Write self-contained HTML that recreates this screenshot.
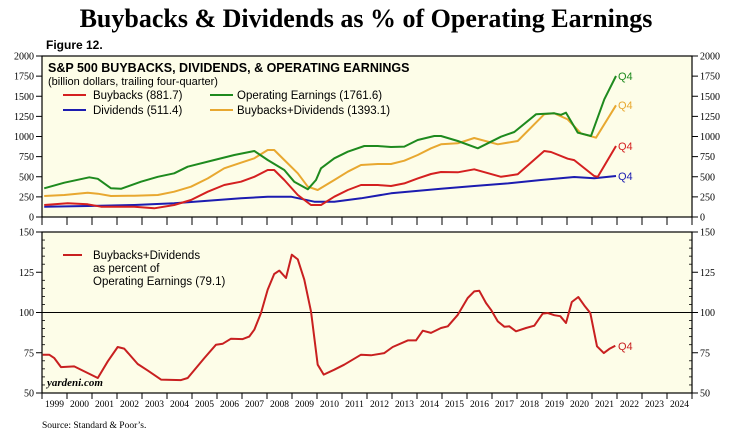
<!DOCTYPE html>
<html><head><meta charset="utf-8"><style>
html,body{margin:0;padding:0;background:#fff;}
svg{display:block;}
</style></head><body>
<svg id="chart" width="732" height="431" viewBox="0 0 732 431" xmlns="http://www.w3.org/2000/svg">
<text x="366" y="27" text-anchor="middle" font-family="Liberation Serif, serif" font-weight="bold" font-size="26">Buybacks &amp; Dividends as % of Operating Earnings</text>
<text x="46" y="49" font-family="Liberation Sans, sans-serif" font-weight="bold" font-size="12">Figure 12.</text>
<rect x="42" y="56" width="650" height="161" fill="#fdfde8" stroke="#000" stroke-width="1.2"/>
<rect x="42" y="232" width="650" height="161" fill="#fdfde8" stroke="#000" stroke-width="1.2"/>
<g id="axes"></g>
<g id="series"></g>
<text x="48" y="72" font-family="Liberation Sans, sans-serif" font-weight="bold" font-size="12.5">S&amp;P 500 BUYBACKS, DIVIDENDS, &amp; OPERATING EARNINGS</text>
<text x="48" y="85" font-family="Liberation Sans, sans-serif" font-size="11">(billion dollars, trailing four-quarter)</text>
<g font-family="Liberation Sans, sans-serif" font-size="11.5">
<line x1="63" y1="95" x2="86" y2="95" stroke="#d42020" stroke-width="2"/>
<text x="93" y="99">Buybacks (881.7)</text>
<line x1="63" y1="110" x2="86" y2="110" stroke="#1c1cb0" stroke-width="2"/>
<text x="93" y="114">Dividends (511.4)</text>
<line x1="210" y1="95" x2="233" y2="95" stroke="#1e8a1e" stroke-width="2"/>
<text x="237" y="99">Operating Earnings (1761.6)</text>
<line x1="210" y1="110" x2="233" y2="110" stroke="#e8a830" stroke-width="2"/>
<text x="237" y="114">Buybacks+Dividends (1393.1)</text>
<line x1="63" y1="255" x2="82" y2="255" stroke="#c82020" stroke-width="2"/>
<text x="93" y="259">Buybacks+Dividends</text>
<text x="93" y="272">as percent of</text>
<text x="93" y="285">Operating Earnings (79.1)</text>
</g>
<g font-family="Liberation Sans, sans-serif" font-size="11">
<text x="618" y="80" fill="#1e8a1e">Q4</text>
<text x="618" y="109" fill="#e8a830">Q4</text>
<text x="618" y="150" fill="#d42020">Q4</text>
<text x="618" y="180" fill="#1c1cb0">Q4</text>
<text x="618" y="350" fill="#c82020">Q4</text>
</g>
<text x="47" y="386" font-family="Liberation Serif, serif" font-style="italic" font-weight="bold" font-size="11">yardeni.com</text>
<text x="42" y="428" font-family="Liberation Serif, serif" font-size="9.5">Source: Standard &amp; Poor’s.</text>
</svg>
<script>
const years = [1999,2000,2001,2002,2003,2004,2005,2006,2007,2008,2009,2010,2011,2012,2013,2014,2015,2016,2017,2018,2019,2020,2021,2022,2023,2024];
const topTicks = [0,250,500,750,1000,1250,1500,1750,2000];
const botTicks = [50,75,100,125,150];

const earnDates = [1999.09,1999.89,2000.89,2001.23,2001.76,2002.16,2002.96,2003.63,2004.29,2004.83,2005.89,2006.69,2007.49,2008.03,2008.69,2009.09,2009.63,2009.96,2010.16,2010.69,2011.23,2011.89,2012.43,2012.96,2013.49,2014.03,2014.69,2014.96,2015.63,2016.43,2017.36,2017.89,2018.76,2019.49,2019.76,2019.96,2020.43,2020.96,2021.49,2021.96];
const earnVals = [356,426,493,475,356,350,438,500,543,625,708,770,820,708,584,438,344,460,605,729,811,882,882,870,875,956,1006,1006,944,853,997,1056,1276,1288,1270,1296,1047,1006,1462,1751];

const bdDates = [1999.09,1999.89,2000.83,2001.23,2001.76,2002.69,2003.63,2004.29,2004.96,2005.63,2006.29,2006.96,2007.49,2008.03,2008.29,2008.69,2009.23,2009.63,2010.03,2010.69,2011.23,2011.76,2012.43,2012.96,2013.49,2014.03,2014.56,2014.96,2015.63,2016.29,2017.23,2018.03,2019.09,2019.49,2020.03,2020.56,2021.16,2021.96];
const bdVals = [261,273,302,290,261,265,273,314,376,480,605,674,729,832,832,708,543,376,335,460,563,646,658,658,699,770,853,903,915,981,903,944,1276,1288,1213,1039,985,1387];

const buyDates = [1999.09,2000.03,2000.83,2001.36,2002.69,2003.49,2004.29,2004.96,2005.63,2006.29,2006.96,2007.49,2008.03,2008.29,2008.69,2009.23,2009.76,2010.16,2010.69,2011.23,2011.76,2012.43,2012.96,2013.49,2014.03,2014.56,2014.96,2015.63,2016.29,2017.36,2018.03,2019.09,2019.36,2020.03,2020.29,2021.09,2021.23,2021.96];
const buyVals = [149,170,158,128,128,108,149,211,314,397,438,500,584,584,460,273,149,149,252,335,397,397,385,418,480,534,559,555,592,500,530,820,808,724,707,509,500,882];

const divDates = [1999.09,2000.83,2002.69,2004.29,2005.63,2006.96,2008.03,2008.96,2009.89,2010.69,2011.76,2012.96,2014.96,2016.29,2017.63,2018.96,2020.29,2021.09,2021.96];
const divVals = [128,137,149,170,202,232,252,252,190,190,232,294,352,385,418,460,497,481,509];

const pctDates = [1999.03,1999.29,1999.49,1999.76,2000.29,2000.63,2001.23,2001.63,2002.03,2002.29,2002.83,2003.23,2003.76,2004.56,2004.83,2005.49,2005.96,2006.23,2006.56,2007.03,2007.29,2007.49,2007.76,2008.03,2008.29,2008.49,2008.76,2008.99,2009.23,2009.49,2009.76,2010.03,2010.27,2010.69,2011.09,2011.76,2012.16,2012.69,2013.03,2013.63,2013.96,2014.23,2014.56,2014.96,2015.23,2015.63,2016.03,2016.29,2016.49,2016.76,2016.96,2017.23,2017.49,2017.69,2017.96,2018.36,2018.69,2019.03,2019.23,2019.49,2019.73,2019.96,2020.19,2020.45,2020.72,2020.93,2021.2,2021.47,2021.69,2021.93];
const pctVals = [73.8,73.8,71.7,66.1,66.5,63.9,59.3,69.7,78.6,77.6,68,63.9,58.3,58,59.3,71.7,80,80.6,83.7,83.5,85,89.3,99.7,114.2,123.9,126,121.4,135.9,133,120.4,100.7,67.6,61.4,64.5,67.6,73.8,73.4,74.8,78.6,82.7,82.7,88.7,87.3,90.4,91.4,98.6,109,113.1,113.5,105.9,101.7,94.5,91.2,91.4,88.3,90.4,91.8,99.3,99.7,98.3,97.7,93.5,106.5,109.6,103.8,99.7,79,74.8,77.4,79.4];

const NS = 'http://www.w3.org/2000/svg';
const L = 42, PXY = 25;
function xScale(t){ return L + (t - 1999) * PXY; }
function yTop(v){ return 217 - v * 161 / 2000; }
function yBot(v){ return 393 - (v - 50) * 161 / 100; }
function mk(tag, attrs, parent){ const e = document.createElementNS(NS, tag); for (const k in attrs) e.setAttribute(k, attrs[k]); parent.appendChild(e); return e; }

const axes = document.getElementById('axes');
const serif = 'Liberation Serif, serif';
topTicks.forEach(v => {
  const y = yTop(v);
  const t1 = mk('line', {x1: 36, x2: 42, y1: y, y2: y, stroke: '#000'}, axes);
  
  
  const t2 = mk('line', {x1: 692, x2: 698, y1: y, y2: y, stroke: '#000'}, axes);
  
  
  const a = mk('text', {x: 34, y: y + 3.5, 'text-anchor': 'end', 'font-family': serif, 'font-size': 10}, axes);
  a.textContent = v;
  
  
  const b = mk('text', {x: 700, y: y + 3.5, 'font-family': serif, 'font-size': 10}, axes);
  b.textContent = v;
  
  
});
botTicks.forEach(v => {
  const y = yBot(v);
  const t1 = mk('line', {x1: 36, x2: 42, y1: y, y2: y, stroke: '#000'}, axes);
  
  
  const t2 = mk('line', {x1: 692, x2: 698, y1: y, y2: y, stroke: '#000'}, axes);
  
  
  const a = mk('text', {x: 34, y: y + 3.5, 'text-anchor': 'end', 'font-family': serif, 'font-size': 10}, axes);
  a.textContent = v;
  
  
  const b = mk('text', {x: 700, y: y + 3.5, 'font-family': serif, 'font-size': 10}, axes);
  b.textContent = v;
  
  
});
for (let v = 55; v < 150; v += 5) {
  if (v % 25 === 0) continue;
  const y = yBot(v);
  const m1 = mk('line', {x1: 42, x2: 45, y1: y, y2: y, stroke: '#000', 'stroke-width': 0.8}, axes);
  
  
  const m2 = mk('line', {x1: 689, x2: 692, y1: y, y2: y, stroke: '#000', 'stroke-width': 0.8}, axes);
  
  
}
years.concat([2025]).forEach(yr => {
  const x = xScale(yr);
  const t = mk('line', {x1: x, x2: x, y1: 217, y2: 225, stroke: '#000'}, axes);
  
  
  const t2 = mk('line', {x1: x, x2: x, y1: 393, y2: 399, stroke: '#000'}, axes);
  
  
});
years.forEach(yr => {
  const lab = mk('text', {x: xScale(yr + 0.5), y: 407, 'text-anchor': 'middle', 'font-family': serif, 'font-size': 9.5}, axes);
  lab.textContent = yr;
  
  
});
const ref = mk('line', {x1: 42, x2: 692, y1: yBot(100), y2: yBot(100), stroke: '#000', 'stroke-width': 1}, axes);



const series = document.getElementById('series');
function drawLine(dates, vals, yf, color, name){
  const d = dates.map((t, i) => (i ? 'L' : 'M') + xScale(t).toFixed(1) + ',' + yf(vals[i]).toFixed(1)).join(' ');
  const p = mk('path', {d: d, fill: 'none', stroke: color, 'stroke-width': 2, 'stroke-linejoin': 'round'}, series);
  
  
}
drawLine(divDates, divVals, yTop, '#1c1cb0', 'dividends-line');
drawLine(buyDates, buyVals, yTop, '#d42020', 'buybacks-line');
drawLine(bdDates, bdVals, yTop, '#e8a830', 'buybacks-dividends-line');
drawLine(earnDates, earnVals, yTop, '#1e8a1e', 'operating-earnings-line');
drawLine(pctDates, pctVals, yBot, '#c82020', 'percent-of-earnings-line');
</script>
</body></html>
